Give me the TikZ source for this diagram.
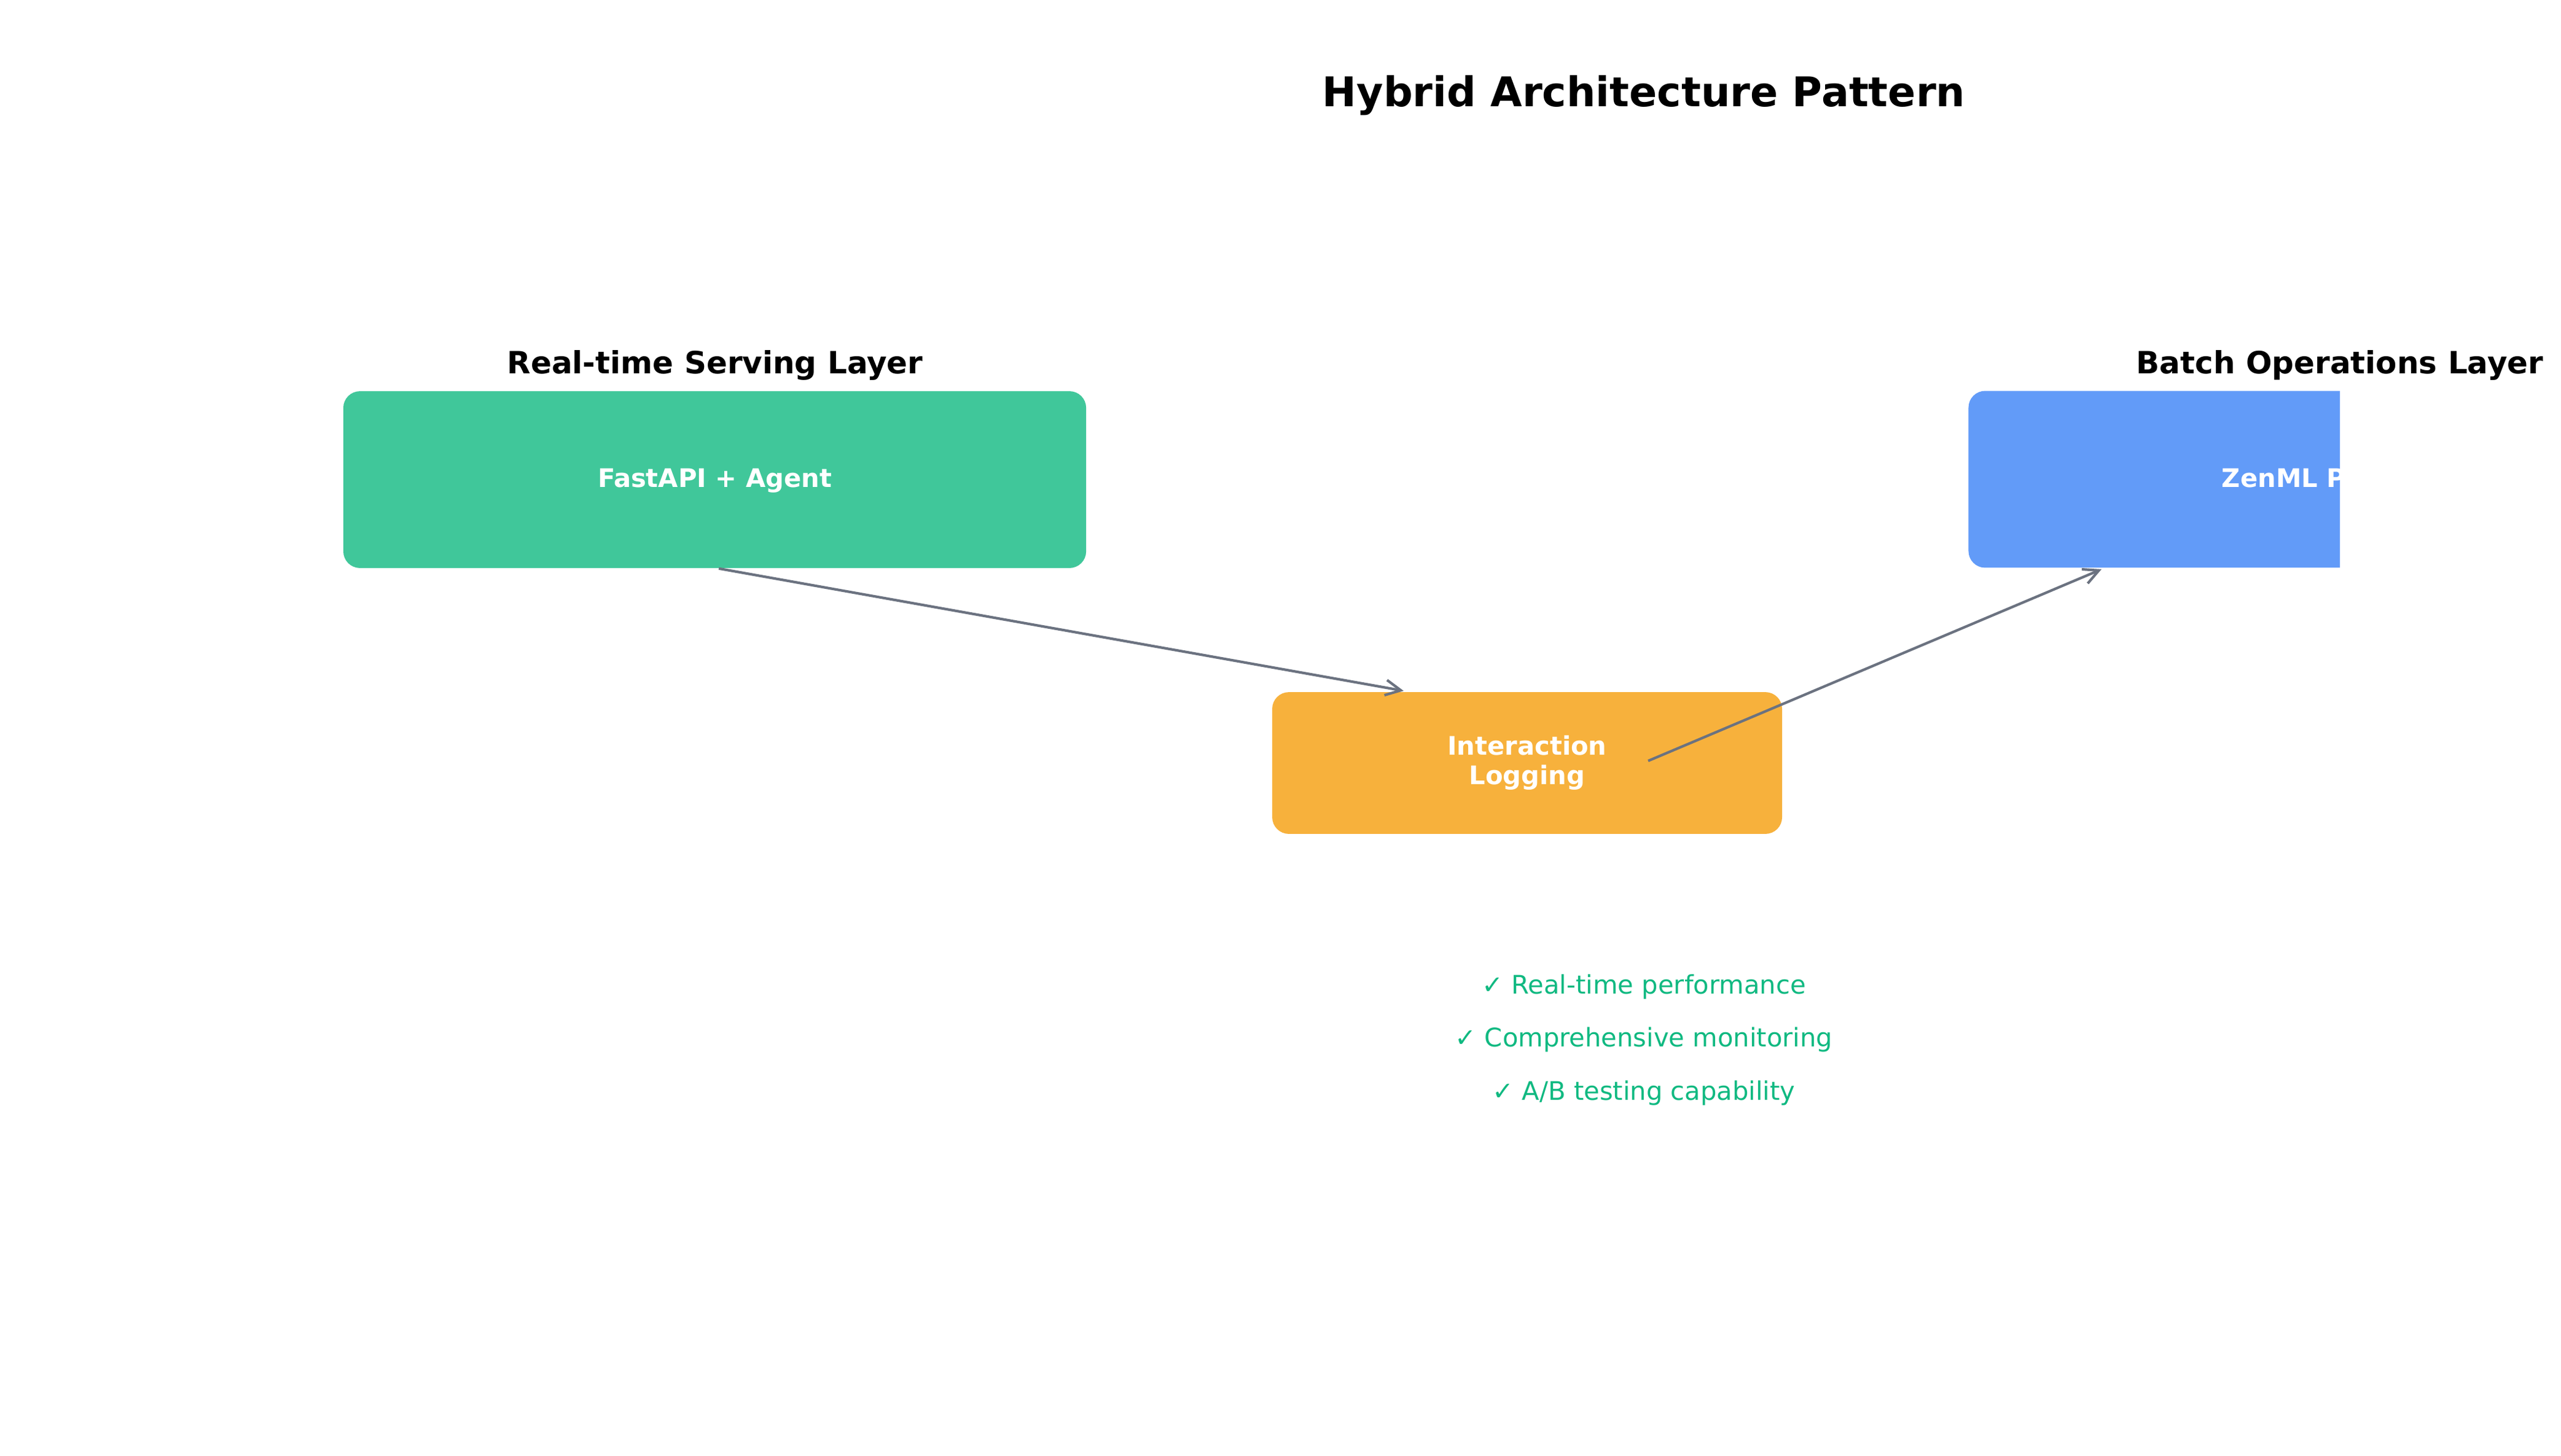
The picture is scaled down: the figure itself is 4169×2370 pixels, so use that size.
\documentclass[tikz,border=0pt]{standalone}
\usepackage{fontspec}
\setmainfont{DejaVu Sans}
\usetikzlibrary{arrows.meta}
\definecolor{boxgreen}{HTML}{40C79A}
\definecolor{boxorange}{HTML}{F7B13C}
\definecolor{boxblue}{HTML}{629BF8}
\definecolor{checkgreen}{HTML}{10B981}
\definecolor{arrowgray}{HTML}{6B7280}
\begin{document}
\begin{tikzpicture}[x=0.24pt,y=-0.24pt,
  layerbox/.style={rounded corners=6.5pt, inner sep=0pt, minimum width=290.2pt, minimum height=69.1pt},
  boxlabel/.style={text=white, font=\fontsize{10}{11.52}\selectfont\bfseries, inner sep=0pt},
  layertitle/.style={font=\fontsize{12}{14}\selectfont\bfseries, inner sep=0pt, anchor=base},
  checkitem/.style={text=checkgreen, font=\fontsize{10}{12}\selectfont, inner sep=0pt, anchor=base},
  flow/.style={draw=arrowgray, line width=1pt, -{Straight Barb[length=6pt,width=6pt]}}
]
\fill[white] (0,0) rectangle (4169,2370);
\useasboundingbox (0,0) rectangle (4169,2370);

\node[font=\fontsize{16}{19}\selectfont\bfseries, anchor=base, inner sep=0pt] (title) at (2676,173) {Hybrid Architecture Pattern};

\node[layertitle] (serveTitle) at (1164,608) {Real-time Serving Layer};
\node[layertitle] (batchTitle) at (3809,608) {Batch Operations Layer};

\node[layerbox, fill=boxgreen, boxlabel, text height=8pt, text depth=2.24pt] (fastapi) at (1163.5,781) {FastAPI + Agent};

\begin{scope}
\clip (0,0) rectangle (3809,2370);
\node[layerbox, fill=boxblue] (zenml) at (3809,780.5) {};
\node[boxlabel, anchor=base west] (zenmltext) at (3616,793) {ZenML P};
\end{scope}

\node[layerbox, fill=boxorange, minimum width=199.2pt, minimum height=55.4pt, boxlabel, align=center] (logging) at (2486,1242.5) {Interaction\\Logging};

\node[checkitem] (check1) at (2676,1618) {✓ Real-time performance};
\node[checkitem] (check2) at (2676,1704) {✓ Comprehensive monitoring};
\node[checkitem] (check3) at (2676,1791) {✓ A/B testing capability};

\coordinate (logIn) at (2285,1125);
\coordinate (logOut) at (2683,1239);
\coordinate (zenIn) at (3421,927);
\draw[flow] ([xshift=1.6pt]fastapi.south) -- (logIn);
\draw[flow] (logOut) -- (zenIn);
\end{tikzpicture}
\end{document}
